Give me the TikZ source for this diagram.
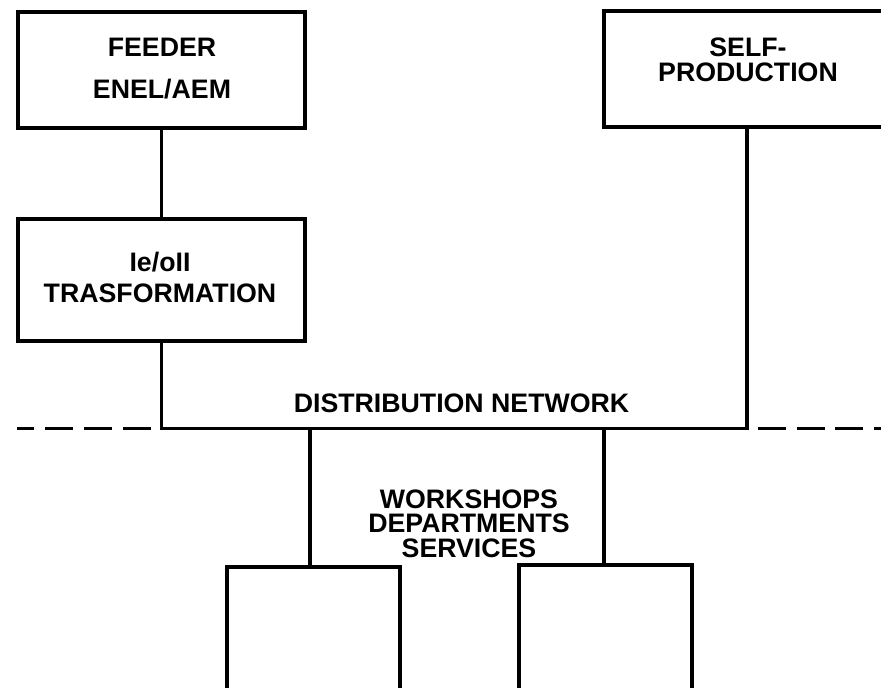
\documentclass[tikz,border=0pt]{standalone}
\usepackage{fontspec}
\setmainfont{Liberation Sans}

\begin{document}
\begin{tikzpicture}[x=0.025cm,y=-0.025cm,
        box/.style={draw,line width=2.7pt,inner sep=0pt,minimum width=7.19cm,minimum height=2.91cm},
        shopbox/.style={box,minimum width=4.33cm,minimum height=3.6cm},
        wire/.style={line width=2.7pt},
        busdash/.style={wire,dash pattern=on 0.7cm off 0.27cm,dash phase=0.7cm},
        lbl/.style={font=\fontsize{19}{17.5}\selectfont\bfseries,align=center,inner sep=0pt}]
    \useasboundingbox (0,0) rectangle (881,688);
    \node[box] (feeder) at (161.5,70) {};
    \node[box,minimum height=3.05cm] (trasf) at (161.5,280) {};
    \node[box,minimum width=7.13cm] (self) at (747,69) {};
    \node[shopbox] (shopL) at (313.5,639) {};
    \node[shopbox] (shopR) at (605.5,637) {};
    \node[lbl] (feedtxt) at (162,69) {FEEDER\\[12.3pt]ENEL/AEM};
    \node[lbl] (trasftxt) at (160,277.5) {Ie/oII\\[4.5pt]TRASFORMATION};
    \node[lbl] (selftxt) at (748,60) {SELF-\\PRODUCTION};
    \node[lbl] (nettxt) at (461.5,403) {DISTRIBUTION NETWORK};
    \node[lbl] (shoptxt) at (469,523.5) {WORKSHOPS\\DEPARTMENTS\\SERVICES};
    \coordinate (jL) at (trasf.south |- 0,428.5);
    \coordinate (jR) at (self.south |- 0,428.5);
    \coordinate (endL) at (17,428.5);
    \coordinate (endR) at (890,428.5);
    \coordinate (tapL) at (310,428.5);
    \coordinate (tapR) at (604,428.5);
    \draw[wire] (feeder) -- (trasf);
    \draw[wire] (trasf.south) -- (jL) -- (jR) -- (self.south);
    \draw[busdash] (jL) -- (endL);
    \draw[busdash] (jR) -- (endR);
    \draw[wire] (tapL) -- (tapL |- shopL.north);
    \draw[wire] (tapR) -- (tapR |- shopR.north);
\end{tikzpicture}
\end{document}
